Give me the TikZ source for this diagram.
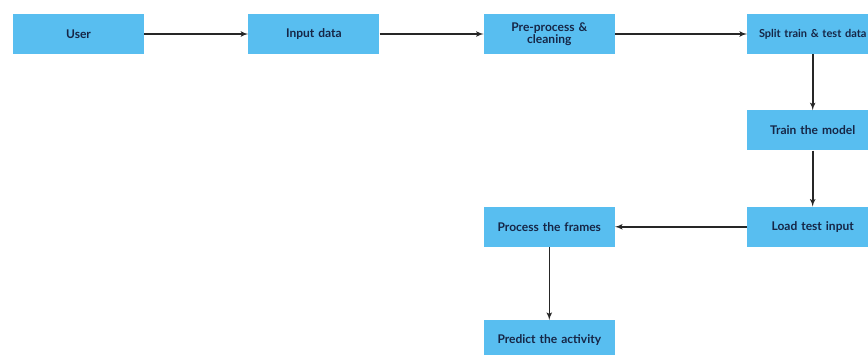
\documentclass[tikz,border=0pt]{standalone}
\usepackage{fontspec}
\setmainfont{Lato}
\usepackage{tikz}
\usetikzlibrary{shapes,arrows,positioning,calc}
\usepackage{xcolor}
\definecolor{boxblue}{RGB}{88,190,240}
\definecolor{boxtext}{RGB}{22,38,70}

\begin{document}
\begin{tikzpicture}[node distance=104pt, auto]
\tikzstyle{block} = [rectangle, fill=boxblue, text=boxtext, text width=117pt, align=center, minimum width=131pt, minimum height=40pt, inner sep=2pt, font=\fontsize{12}{12.5}\selectfont\bfseries]
\tikzstyle{line} = [draw, -latex', line width=1.6pt, draw=black!85]

\useasboundingbox (0,0) rectangle (868pt,-354pt);

\node [block] (user) at (78.5pt,-34pt) {User};
\node [block, right=104pt of user] (input) {Input data};
\node [block, right=104pt of input] (preprocess) {Pre-process \&\\ cleaning};
\node [block, right=132pt of preprocess, font=\fontsize{11}{12}\selectfont\bfseries] (split) {\mbox{Split train \& test data}};
\node [block, below=56pt of split] (train) {Train the model};
\node [block, below=56pt of train] (load) {Load test input};
\node [block, left=132pt of load] (frames) {Process the frames};
\node [block, below=73pt of frames] (predict) {Predict the activity};

\path [line] (user) -- (input);
\path [line] (input) -- (preprocess);
\path [line] (preprocess) -- (split);
\path [line] (split) -- (train);
\path [line] (train) -- (load);
\path [line] (load) -- (frames);
\path [line] (frames) -- (predict);

\end{tikzpicture}
\end{document}
